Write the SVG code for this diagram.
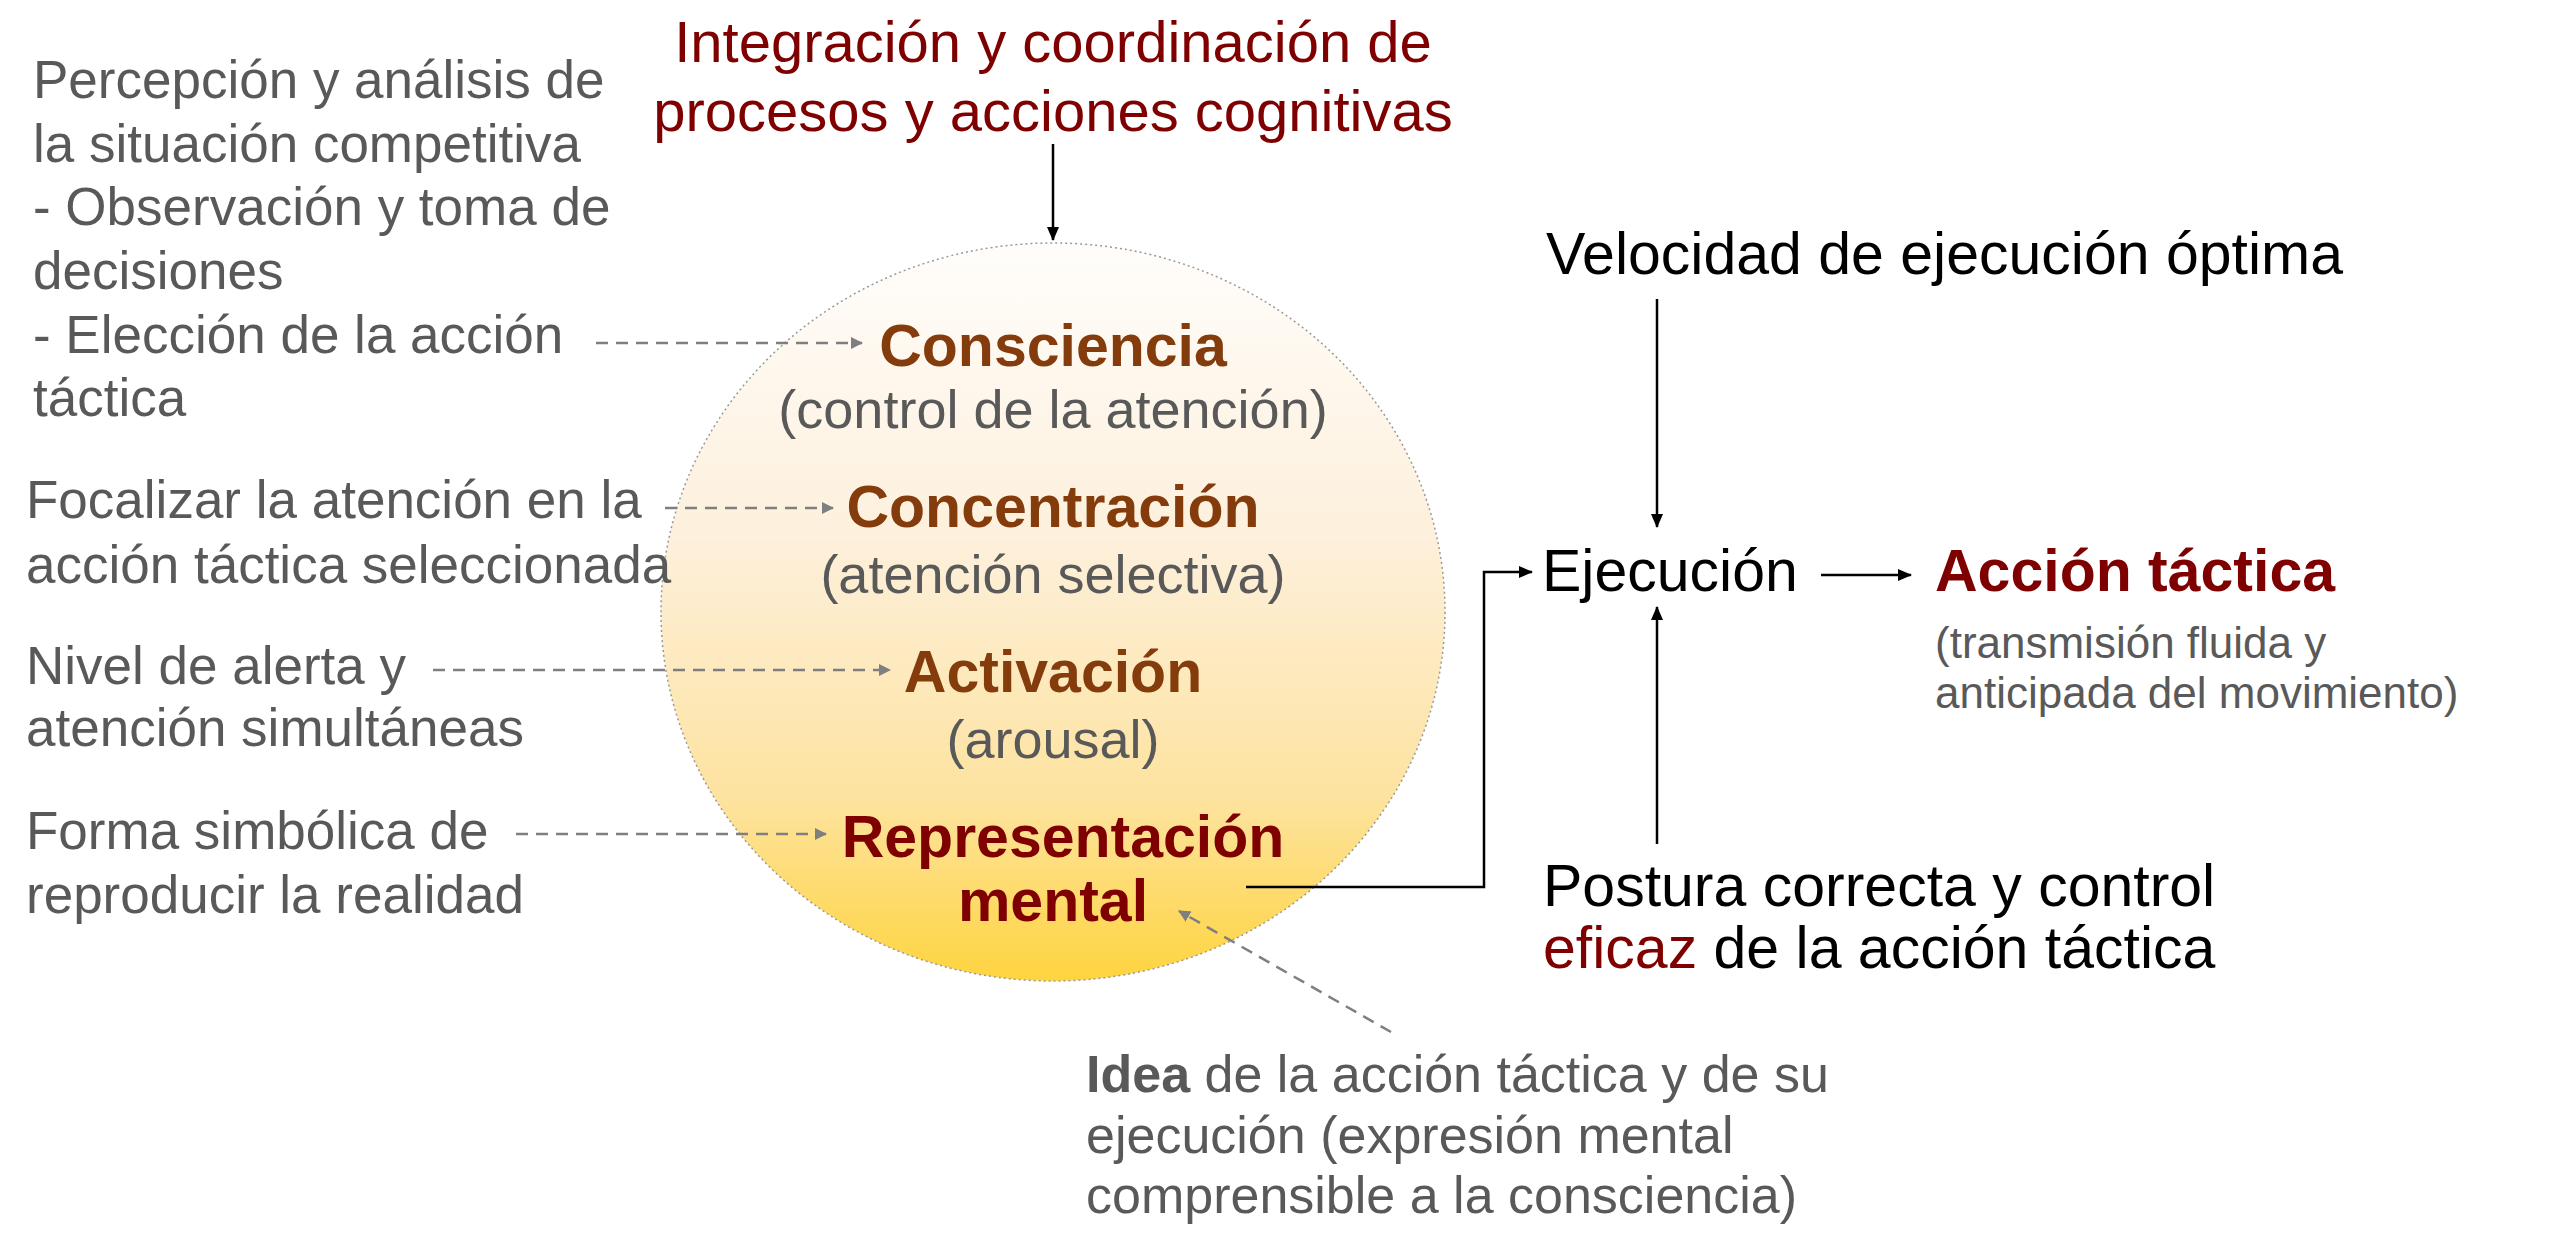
<svg xmlns="http://www.w3.org/2000/svg" width="2560" height="1241" viewBox="0 0 2560 1241">
<style>
text{font-family:"Liberation Sans",Arial,sans-serif}
.g{fill:#595959;font-size:53px}
.k{fill:#000;font-size:59px}
.h{font-weight:bold;font-size:59px;text-anchor:middle}
.s{font-size:54px}
.br{fill:#843c0c}
.dr{fill:#7f0000}
.c{text-anchor:middle}
.dash{stroke:#7f7f7f;stroke-width:2.5;stroke-dasharray:12 8;fill:none}
.solid{stroke:#000;stroke-width:2.5;fill:none}
</style>
<defs>
<linearGradient id="gr" x1="0" y1="0" x2="0" y2="1">
<stop offset="0" stop-color="#fffdfb"/>
<stop offset="0.4" stop-color="#fdf0dc"/>
<stop offset="0.75" stop-color="#fde3a0"/>
<stop offset="1" stop-color="#ffd43f"/>
</linearGradient>
<marker id="ag" markerWidth="12" markerHeight="12" refX="11" refY="6" orient="auto" markerUnits="userSpaceOnUse"><path d="M0,0 L12,6 L0,12z" fill="#7f7f7f"/></marker>
<marker id="ak" markerWidth="14" markerHeight="14" refX="13" refY="7" orient="auto" markerUnits="userSpaceOnUse"><path d="M0,1 L14,7 L0,13z" fill="#000"/></marker>
</defs>
<g id="circle"><ellipse cx="1053" cy="612" rx="392" ry="369" fill="url(#gr)" stroke="#999" stroke-width="1.5" stroke-dasharray="2 3"/></g>
<g id="title"><text class="c dr" x="1053" y="62" font-size="58">Integración y coordinación de</text><text class="c dr" x="1053" y="131" font-size="58">procesos y acciones cognitivas</text></g>
<g id="left1"><text x="33" y="98" class="g">Percepción y análisis de</text><text x="33" y="162" class="g">la situación competitiva</text><text x="33" y="225" class="g">- Observación y toma de</text><text x="33" y="289" class="g">decisiones</text><text x="33" y="353" class="g">- Elección de la acción</text><text x="33" y="416" class="g">táctica</text></g>
<g id="left2"><text x="26" y="518" class="g">Focalizar la atención en la</text><text x="26" y="583" class="g">acción táctica seleccionada</text></g>
<g id="left3"><text x="26" y="684" class="g">Nivel de alerta y</text><text x="26" y="746" class="g">atención simultáneas</text></g>
<g id="left4"><text x="26" y="849" class="g">Forma simbólica de</text><text x="26" y="913" class="g">reproducir la realidad</text></g>
<g id="consciencia"><text x="1053" y="366" class="h br">Consciencia</text><text x="1053" y="428" class="g c s">(control de la atención)</text></g>
<g id="concentracion"><text x="1053" y="527" class="h br">Concentración</text><text x="1053" y="593" class="g c s">(atención selectiva)</text></g>
<g id="activacion"><text x="1053" y="692" class="h br">Activación</text><text x="1053" y="758" class="g c s">(arousal)</text></g>
<g id="representacion"><text x="1063" y="857" class="h dr">Representación</text><text x="1053" y="921" class="h dr">mental</text></g>
<g id="velocidad"><text x="1546" y="274" class="k">Velocidad de ejecución óptima</text></g>
<g id="ejecucion"><text x="1542" y="591" class="k">Ejecución</text></g>
<g id="accion"><text x="1935" y="591" font-size="59" font-weight="bold" class="dr">Acción táctica</text><text x="1935" y="658" fill="#595959" font-size="44">(transmisión fluida y</text><text x="1935" y="708" fill="#595959" font-size="44">anticipada del movimiento)</text></g>
<g id="postura"><text x="1543" y="906" class="k">Postura correcta y control</text><text x="1543" y="968" class="k"><tspan class="dr">eficaz</tspan> de la acción táctica</text></g>
<g id="idea"><text x="1086" y="1092" fill="#595959" font-size="52"><tspan font-weight="bold">Idea</tspan> de la acción táctica y de su</text><text x="1086" y="1153" fill="#595959" font-size="52">ejecución (expresión mental</text><text x="1086" y="1213" fill="#595959" font-size="52">comprensible a la consciencia)</text></g>
<g id="connectors">
<line class="dash" x1="596" y1="343" x2="862" y2="343" marker-end="url(#ag)"/>
<line class="dash" x1="665" y1="508" x2="833" y2="508" marker-end="url(#ag)"/>
<line class="dash" x1="433" y1="670" x2="890" y2="670" marker-end="url(#ag)"/>
<line class="dash" x1="516" y1="834" x2="826" y2="834" marker-end="url(#ag)"/>
<line class="dash" x1="1391" y1="1032" x2="1179" y2="911" marker-end="url(#ag)"/>
<line class="solid" x1="1053" y1="144" x2="1053" y2="240" marker-end="url(#ak)"/>
<line class="solid" x1="1657" y1="299" x2="1657" y2="527" marker-end="url(#ak)"/>
<line class="solid" x1="1657" y1="844" x2="1657" y2="607" marker-end="url(#ak)"/>
<line class="solid" x1="1821" y1="575" x2="1911" y2="575" marker-end="url(#ak)"/>
<polyline class="solid" points="1246,887 1484,887 1484,572 1532,572" marker-end="url(#ak)"/>
</g>
</svg>
